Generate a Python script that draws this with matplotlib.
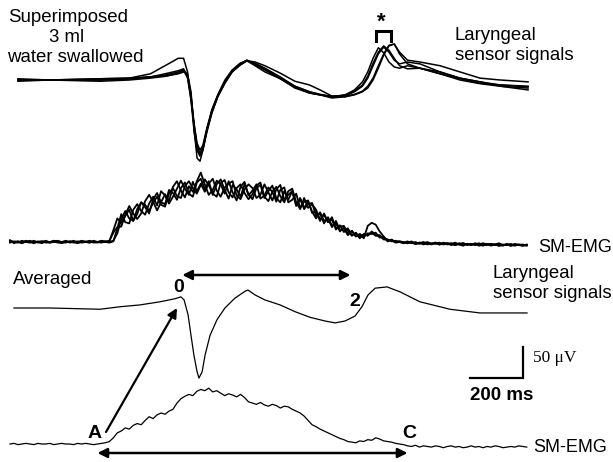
import numpy as np
import matplotlib.pyplot as plt

# page geometry and the calibration given by the scale bars
W_PX, H_PX = 613, 462
PX_PER_MS = 53 / 200    # 200 ms bar
PX_PER_UV = 31 / 50     # 50 uV bar
X0_PX = 10


def to_data(x, y):
    """page position (px, from top-left) -> (ms, uV)"""
    return (x - X0_PX) / PX_PER_MS, (H_PX - y) / PX_PER_UV


# ---- superimposed laryngeal sensor signals (5 swallows), uV vs ms ----
t_lar = [30, 150, 340, 450, 530, 585, 635, 655, 670, 683, 695, 706, 717, 728, 743,
         762, 785, 811, 838, 868, 894, 925, 962, 1020, 1075, 1130, 1170, 1215, 1265, 1300,
         1330, 1350, 1370, 1390, 1410, 1430, 1450, 1470, 1500, 1547, 1623, 1698, 1774, 1850, 1955]
lar_1 = [0, 0, 0, 2, 5, 8, 13, 16, 3, -32, -73, -102, -113, -105, -77,
         -48, -24, -3, 13, 26, 32, 24, 16, 3, -10, -19, -23, -27, -24, -16,
         -3, 13, 35, 52, 44, 29, 21, 19, 23, 19, 10, 2, -5, -8, -11]
lar_2 = [-2, 0, 2, 3, 5, 6, 10, 13, 10, -19, -81, -126, -131, -113, -81,
         -48, -23, 0, 16, 27, 31, 23, 13, 2, -11, -21, -24, -29, -27, -23,
         -18, -10, 3, 23, 42, 56, 58, 42, 26, 19, 10, 0, -6, -10, -13]
lar_3 = [0, 0, 2, 3, 10, 23, 35, 35, 13, -32, -84, -113, -121, -110, -81,
         -52, -26, -5, 13, 24, 31, 29, 23, 11, -2, -8, -16, -26, -26, -19,
         -10, 3, 23, 42, 53, 45, 32, 26, 29, 26, 13, 3, -3, -10, -16]
lar_4 = [0, 0, 0, 2, 5, 10, 15, 18, 6, -26, -71, -106, -118, -108, -81,
         -50, -24, -3, 15, 26, 32, 26, 18, 2, -13, -21, -24, -27, -24, -18,
         -8, 6, 27, 45, 55, 48, 35, 23, 18, 19, 13, 3, -3, -8, -10]
lar_5 = [2, 0, -2, 0, 3, 6, 11, 15, 8, -24, -77, -113, -123, -113, -84,
         -53, -26, -5, 13, 24, 31, 27, 19, 5, -10, -19, -24, -26, -27, -24,
         -19, -13, 0, 19, 40, 55, 58, 45, 32, 29, 23, 13, 3, 0, -3]

# ---- superimposed submental EMG, sampled every 15 ms ----
EMG_DT = 15
emg_1 = [3, -2, 1, -1, 2, 0, -2, 1, 0, 2, -1, 1, 0, -2, 1, 0, 2, -1, 0, 1, -1, 2, 0, 1, 0,
         2, 15, 24, 25, 44, 58, 46, 37, 46, 66, 76, 65, 51, 64, 77, 66, 89, 98, 83, 72, 90, 81, 98, 112,
         93, 76, 84, 99, 93, 78, 98, 80, 67, 89, 97, 75, 83, 93, 70, 75, 88, 81, 65, 84, 88, 64, 68, 78, 55,
         65, 67, 47, 50, 34, 46, 32, 36, 20, 27, 16, 22, 11, 14, 6, 13, 10, 17, 11, 11, 4, 4, 1, 2, 0,
         -1, 1, -2, 0, -3, -1, -2, -4, -1, -3, -2, -4, -3, -1, -4, -2, -5, -3, -4, -2, -5, -3, -6, -4,
         -2, -5, -4, -6, -3, -5, -4, -6]
emg_2 = [1, 0, -1, 2, 0, -1, 1, 0, -2, 1, 0, 1, -1, 0, 2, -1, 0, 1, -1, 0, 2, 0, -1, 1, 0,
         -1, 1, 22, 45, 32, 30, 52, 61, 50, 44, 62, 73, 59, 82, 75, 62, 73, 86, 99, 86, 76, 97, 82, 94,
         81, 94, 102, 83, 73, 88, 94, 98, 75, 69, 85, 93, 87, 71, 76, 93, 80, 67, 85, 92, 68, 76, 82, 60, 71,
         55, 65, 49, 38, 48, 34, 38, 24, 34, 19, 22, 11, 18, 9, 12, 6, 26, 31, 28, 17, 9, 1, 4, 0, 1,
         0, -2, 1, -3, -1, -2, 0, -3, -2, -4, -1, -3, -2, -5, -3, -2, -4, -3, -5, -4, -2, -4, -3, -5,
         -4, -6, -3, -5, -4, -5, -6, -4]
emg_3 = [-1, 1, 0, -2, 1, 0, 2, -1, 1, 0, -1, 0, 2, 0, -1, 1, 0, -2, 1, 0, -1, 1, 0, -1, 1,
         1, 19, 38, 31, 42, 52, 34, 45, 64, 60, 50, 63, 73, 60, 57, 78, 87, 74, 71, 90, 98, 87, 78, 92,
         101, 92, 78, 73, 95, 100, 80, 72, 87, 93, 79, 69, 77, 91, 96, 73, 66, 81, 89, 74, 64, 82, 86, 64, 53,
         71, 55, 61, 52, 36, 44, 32, 40, 22, 25, 26, 12, 18, 9, 13, 8, 14, 13, 15, 7, 8, 2, 3, -1, 0,
         -2, 0, -1, -3, -2, 0, -4, -2, -3, -1, -4, -2, -3, -5, -2, -4, -3, -5, -3, -6, -4, -5, -3, -4,
         -6, -5, -4, -6, -5, -4, -6, -5]
emg_4 = [2, 0, 1, -1, 0, 2, -1, 0, 1, -1, 0, 2, 1, -1, 0, 1, -1, 0, 2, 0, 1, -1, 0, 2, 1,
         0, 2, 14, 37, 50, 38, 34, 53, 64, 56, 46, 69, 79, 64, 61, 84, 79, 68, 87, 96, 78, 73, 96, 102,
         85, 98, 76, 93, 101, 84, 70, 92, 85, 73, 93, 77, 69, 87, 92, 71, 82, 91, 71, 64, 82, 68, 82, 58, 69,
         53, 61, 63, 42, 46, 30, 40, 26, 30, 17, 24, 18, 10, 15, 8, 12, 11, 15, 10, 10, 5, 4, 2, 0, 1,
         -1, -2, 0, -3, -1, -4, -2, -3, -1, -4, -3, -2, -5, -3, -4, -6, -3, -5, -2, -4, -6, -3, -5, -4,
         -6, -4, -5, -3, -6, -4, -5, -5]

# ---- averaged laryngeal signal ----
t_avg = [15, 151, 340, 415, 491, 566, 623, 645, 657, 672, 683, 694, 706, 713, 725, 736,
         755, 781, 811, 849, 887, 898, 925, 962, 1019, 1076, 1132, 1189, 1227, 1264, 1302,
         1328, 1351, 1378, 1423, 1472, 1547, 1660, 1774, 1951]
lar_avg = [0, 0, -2, 2, 5, 10, 15, 18, 13, -11, -44, -76, -103, -113, -103, -76,
           -44, -19, 0, 16, 27, 29, 21, 13, 5, -6, -15, -21, -24, -21, -13,
           2, 21, 32, 34, 26, 10, -2, -8, -8]

# ---- averaged SM-EMG, every 15 ms ----
emg_avg = [0, 1, -1, 0, 1, 0, -1, 1, 0, 0, 1, -1, 0, 1, 0, 0, -1, 1, 0, 1, 0, -1, 0, 1, 2,
           4, 10, 18, 21, 26, 24, 30, 33, 31, 38, 44, 41, 47, 50, 48, 53, 56, 66, 73, 77, 80, 78, 85, 88, 86,
           90, 84, 86, 82, 78, 81, 79, 76, 80, 75, 68, 66, 64, 67, 63, 61, 64, 62, 58, 61, 60, 56, 53, 50, 45,
           38, 31, 28, 24, 21, 18, 15, 12, 9, 7, 4, 3, 2, 5, 4, 7, 6, 10, 8, 5, 4, 3, 1, 0, -1,
           -3, -4, -2, -5, -3, -4, -5, -3, -4, -6, -4, -3, -5, -4, -6, -5, -3, -5, -4, -6, -4, -5, -3, -4,
           -6, -5, -4, -5, -3, -4, -5]

# event times (ms) marked on the averaged traces
T_ZERO, T_TWO = 650, 1285
T_A, T_C = 330, 1500

# vertical placement of the four rows
base_sup_lar = to_data(0, 80)[1]
base_sup_emg = to_data(0, 242)[1]
base_avg_lar = to_data(0, 308)[1]
base_avg_emg = to_data(0, 444)[1]

fig = plt.figure(figsize=(W_PX / 100, H_PX / 100), dpi=100)
ax = fig.add_axes([0, 0, 1, 1])
ax.set_xlim(-X0_PX / PX_PER_MS, (W_PX - X0_PX) / PX_PER_MS)
ax.set_ylim(0, H_PX / PX_PER_UV)
ax.axis('off')

k = dict(color='black', solid_joinstyle='round')
for tr in (lar_1, lar_2, lar_3, lar_4, lar_5):
    ax.plot(t_lar, np.array(tr) + base_sup_lar, lw=1.1, **k)

t_emg = np.arange(len(emg_1)) * EMG_DT
for tr in (emg_1, emg_2, emg_3, emg_4):
    ax.plot(t_emg, np.array(tr) + base_sup_emg, lw=1.3, **k)

ax.plot(t_avg, np.array(lar_avg) + base_avg_lar, lw=0.9, **k)
ax.plot(np.arange(len(emg_avg)) * EMG_DT, np.array(emg_avg) + base_avg_emg, lw=0.9, **k)

# text
sans = 'Liberation Sans'
for s, x, y in [('Superimposed', 68, 18), ('3 ml', 67, 38), ('water swallowed', 75, 58)]:
    ax.text(*to_data(x, y), s, ha='center', va='center', fontsize=13.4, family=sans)
ax.text(*to_data(455, 35), 'Laryngeal', ha='left', va='center', fontsize=13.4, family=sans)
ax.text(*to_data(455, 56), 'sensor signals', ha='left', va='center', fontsize=13.4, family=sans)
ax.text(*to_data(538, 247), 'SM-EMG', ha='left', va='center', fontsize=13, family=sans)
ax.text(*to_data(13, 279), 'Averaged', ha='left', va='center', fontsize=13.4, family=sans)
ax.text(*to_data(493, 273), 'Laryngeal', ha='left', va='center', fontsize=13.4, family=sans)
ax.text(*to_data(493, 293), 'sensor signals', ha='left', va='center', fontsize=13.4, family=sans)
ax.text(*to_data(533, 448), 'SM-EMG', ha='left', va='center', fontsize=13, family=sans)

for s, x, y in [('0', 179, 287), ('2', 355, 302), ('A', 95, 434), ('C', 409, 433)]:
    ax.text(*to_data(x, y), s, ha='center', va='center', fontsize=14, fontweight='bold', family=sans)

# asterisk and bracket over the second peak
ax.text(*to_data(381, 22), '*', ha='center', va='center', fontsize=16, fontweight='bold', family=sans)
bx = [to_data(376, 0)[0], to_data(376, 0)[0], to_data(391, 0)[0], to_data(391, 0)[0]]
by = [to_data(0, 41)[1], to_data(0, 31)[1], to_data(0, 31)[1], to_data(0, 41)[1]]
ax.plot(bx, by, color='black', lw=2.2, solid_joinstyle='miter')

# interval arrows
arrow = dict(arrowstyle='<|-|>', color='black', lw=1.8, mutation_scale=14, shrinkA=0, shrinkB=0)
y_top = to_data(0, 275)[1]
ax.annotate('', xy=(T_TWO, y_top), xytext=(T_ZERO, y_top), arrowprops=arrow)
y_bot = to_data(0, 453)[1]
ax.annotate('', xy=(T_C, y_bot), xytext=(T_A, y_bot), arrowprops=arrow)
ax.annotate('', xy=to_data(177, 308), xytext=to_data(106, 432),
            arrowprops=dict(arrowstyle='-|>', color='black', lw=1.6, mutation_scale=14,
                            shrinkA=0, shrinkB=0))

# scale bar
cx, cy = to_data(523, 378)
ax.plot([cx - 200, cx, cx], [cy, cy, cy + 50], color='black', lw=1.6, solid_joinstyle='miter')
ax.text(*to_data(533, 358), '50 \u03bcV', ha='left', va='center', fontsize=12.5, family='Liberation Serif')
ax.text(*to_data(470, 395), '200 ms', ha='left', va='center', fontsize=13.5, fontweight='bold', family=sans)

fig.savefig('out.png', dpi=100)
